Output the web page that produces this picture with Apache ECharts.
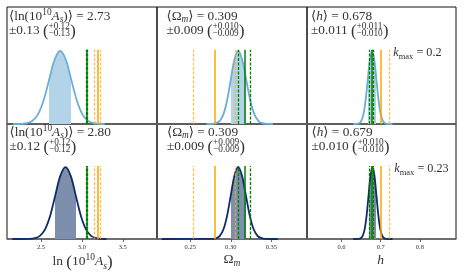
<!DOCTYPE html>
<html><head><meta charset="utf-8">
<script src="https://cdn.jsdelivr.net/npm/echarts@6/dist/echarts.min.js"></script>
<style>html,body{margin:0;padding:0;background:#fff}#c{width:464px;height:277px}</style>
</head><body><div id="c"></div>
<script>
// ---------------- DATA ----------------
const lnAsTicks = [2.5, 3.0, 3.5];
const omTicks = [0.25, 0.30, 0.35];
const hTicks = [0.6, 0.7, 0.8];

// top row (k_max = 0.2) posteriors, peak-normalised
const lnAsTopX = [2.16, 2.2625, 2.33, 2.3975, 2.465, 2.5325, 2.60, 2.6675, 2.735, 2.8025, 2.87, 2.9375, 3.005, 3.0725, 3.14, 3.2075, 3.28];
const lnAsTopY = [0, 0.002, 0.011, 0.044, 0.135, 0.325, 0.607, 0.882, 1, 0.882, 0.607, 0.325, 0.135, 0.044, 0.011, 0.002, 0];
const omTopX = [0.270, 0.2775, 0.282, 0.2865, 0.291, 0.2955, 0.300, 0.3045, 0.309, 0.314, 0.319, 0.324, 0.329, 0.334, 0.339, 0.344, 0.352];
const omTopY = [0, 0.002, 0.011, 0.044, 0.135, 0.325, 0.607, 0.882, 1, 0.882, 0.607, 0.325, 0.135, 0.044, 0.011, 0.002, 0];
const hTopX = [0.63, 0.6395, 0.645, 0.6505, 0.656, 0.6615, 0.667, 0.6725, 0.678, 0.6835, 0.689, 0.6945, 0.700, 0.7055, 0.711, 0.7165, 0.73];
const hTopY = [0, 0.002, 0.011, 0.044, 0.135, 0.325, 0.607, 0.882, 1, 0.882, 0.607, 0.325, 0.135, 0.044, 0.011, 0.002, 0];

// bottom row (k_max = 0.23)
const lnAsBotX = [2.15, 2.3625, 2.425, 2.4875, 2.55, 2.6125, 2.675, 2.7375, 2.80, 2.8625, 2.925, 2.9875, 3.05, 3.1125, 3.175, 3.2375, 3.30];
const lnAsBotY = [0, 0.002, 0.011, 0.044, 0.135, 0.325, 0.607, 0.882, 1, 0.882, 0.607, 0.325, 0.135, 0.044, 0.011, 0.002, 0];
const omBotX = [0.215, 0.2775, 0.282, 0.2865, 0.291, 0.2955, 0.300, 0.3045, 0.309, 0.3138, 0.3186, 0.3234, 0.3282, 0.333, 0.3378, 0.3426, 0.358];
const omBotY = [0, 0.002, 0.011, 0.044, 0.135, 0.325, 0.607, 0.882, 1, 0.882, 0.607, 0.325, 0.135, 0.044, 0.011, 0.002, 0];
const hBotX = [0.63, 0.644, 0.649, 0.654, 0.659, 0.664, 0.669, 0.674, 0.679, 0.684, 0.689, 0.694, 0.699, 0.704, 0.709, 0.714, 0.73];
const hBotY = [0, 0.002, 0.011, 0.044, 0.135, 0.325, 0.607, 0.882, 1, 0.882, 0.607, 0.325, 0.135, 0.044, 0.011, 0.002, 0];

// 68% shaded bands
const lnAsTopBand = [2.60, 2.87];
const omTopBand = [0.300, 0.319];
const hTopBand = [0.667, 0.689];
const lnAsBotBand = [2.675, 2.925];
const omBotBand = [0.300, 0.3186];
const hBotBand = [0.669, 0.689];

// reference vertical lines: [dashed, solid, dashed]
const greenLnAs = [3.048, 3.057, 3.066];
const orangeLnAs = [3.154, 3.192, 3.228];
const greenOm = [0.309, 0.317, 0.3245];
const orangeOm = [0.254, 0.280, 0.306];
const greenH = [0.670, 0.676, 0.681];
const orangeH = [0.679, 0.700, 0.721];

// annotation values
const meanTop = ['2.73', '0.309', '0.678'];
const pmTop = ['0.13', '0.009', '0.011'];
const upTop = ['+0.12', '+0.010', '+0.011'];
const dnTop = ['\u22120.13', '\u22120.009', '\u22120.010'];
const meanBot = ['2.80', '0.309', '0.679'];
const pmBot = ['0.12', '0.009', '0.010'];
const upBot = ['+0.12', '+0.009', '+0.010'];
const dnBot = ['\u22120.12', '\u22120.009', '\u22120.010'];
const kmaxLabels = ['0.2', '0.23'];

// ---------------- LAYOUT / STYLE ----------------
const F = '"Liberation Serif","DejaVu Serif",serif';
const TXT = '#333';
const colL = [7, 157, 307], colW = [150, 150, 149];
const rowT = [7, 124], rowH = [117, 115];
const xr = [[2.085, 3.918], [0.209, 0.394], [0.512, 0.892]];
const YMAX = 1.6, LTOP = 1.015;
const LB = '#6baed6', LBF = '#b3d3e8', NV = '#0b2d69', NVF = '#7d8fad';
const GREEN = '#008000', OR = '#ffa500', ORD = 'rgba(255,170,30,0.75)';

const ctx = document.createElement('canvas').getContext('2d');
function fstr(size, it) { return (it ? 'italic ' : '') + size + 'px ' + F; }
function meas(t, size, it) { ctx.font = fstr(size, it); return ctx.measureText(t).width; }
const G = [];
function put(t, x, base, size, it) {
  G.push({ type: 'text', x: x, y: base - 0.34 * size, silent: true, z: 100,
    style: { text: t, font: fstr(size, it), fill: TXT, align: 'left', verticalAlign: 'middle', textAlign: 'left', textVerticalAlign: 'middle' } });
  return meas(t, size, it);
}
function line(x, base, pieces, center) {
  let W = 0; pieces.forEach(p => W += meas(p[0], p[1], p[2]));
  let cx = center ? x - W / 2 : x;
  pieces.forEach(p => { cx += put(p[0], cx, base - (p[3] || 0), p[1], p[2]); });
  return W;
}
const S = 13.3, SS = 9.3, SP = 16.5;
function annot(c, r, mean, pm, up, dn) {
  const x0 = [9, 166.5, 311][c] + (r ? 0.5 : 0);
  const b1 = r ? 136.6 : 20.6, b2 = r ? 150.8 : 35;
  let p1;
  if (c === 0) p1 = [['\u27E8ln(10', S], ['10', SS, false, 5.2], ['A', S, true], ['s', SS, true, -2.5], [')\u27E9 = ' + mean, S]];
  else if (c === 1) p1 = [['\u27E8\u03A9', S], ['m', SS, true, -2.5], ['\u27E9 = ' + mean, S]];
  else p1 = [['\u27E8', S], ['h', S, true], ['\u27E9 = ' + mean, S]];
  line(x0, b1, p1);
  let x = x0 + put('\u00B1' + pm + ' ', x0, b2, S);
  x += put('(', x, b2 + 2, SP);
  const w = Math.max(meas(up, SS), meas(dn, SS));
  put(up, x, b2 - 5.2, SS); put(dn, x, b2 + 1.6, SS);
  put(')', x + w + 0.3, b2 + 2, SP);
}
for (let c = 0; c < 3; c++) { annot(c, 0, meanTop[c], pmTop[c], upTop[c], dnTop[c]); annot(c, 1, meanBot[c], pmBot[c], upBot[c], dnBot[c]); }
// k_max labels
[[393.3, 57.3], [394.3, 173.3]].forEach((pos, r) => {
  line(pos[0], pos[1], [['k', 12.2, true], ['max', 8.5, false, -2.5], [' = ' + kmaxLabels[r], 12.2]]);
});
// axis titles
line(82.5, 266.5, [['ln ', 13.5], ['(', 17, false, -1.5], ['10', 13.5], ['10', 9.5, false, 5.5], ['A', 13.5, true], ['s', 9.5, true, -3], [')', 17, false, -1.5]], true);
line(232, 264, [['\u03A9', 13.5], ['m', 9.5, true, -3]], true);
line(380.5, 265, [['h', 13.5, true]], true);

// ---------------- CHART ----------------
const panels = [
  { c: 0, r: 0, x: lnAsTopX, y: lnAsTopY, band: lnAsTopBand, col: LB, fill: LBF, green: greenLnAs, orange: orangeLnAs, ticks: lnAsTicks, dec: 1 },
  { c: 1, r: 0, x: omTopX, y: omTopY, band: omTopBand, col: LB, fill: LBF, green: greenOm, orange: orangeOm, ticks: omTicks, dec: 2 },
  { c: 2, r: 0, x: hTopX, y: hTopY, band: hTopBand, col: LB, fill: LBF, green: greenH, orange: orangeH, ticks: hTicks, dec: 1 },
  { c: 0, r: 1, x: lnAsBotX, y: lnAsBotY, band: lnAsBotBand, col: NV, fill: NVF, green: greenLnAs, orange: orangeLnAs, ticks: lnAsTicks, dec: 1 },
  { c: 1, r: 1, x: omBotX, y: omBotY, band: omBotBand, col: NV, fill: NVF, green: greenOm, orange: orangeOm, ticks: omTicks, dec: 2 },
  { c: 2, r: 1, x: hBotX, y: hBotY, band: hBotBand, col: NV, fill: NVF, green: greenH, orange: orangeH, ticks: hTicks, dec: 1 }
];

const grid = [], xAxis = [], yAxis = [], series = [];
panels.forEach((p, i) => {
  grid.push({ left: colL[p.c], top: rowT[p.r], width: colW[p.c], height: rowH[p.r], show: true, borderColor: '#111', borderWidth: 1, backgroundColor: 'transparent' });
  const bot = p.r === 1;
  xAxis.push({ type: 'value', gridIndex: i, min: xr[p.c][0], max: xr[p.c][1], splitLine: { show: false },
    axisLine: { show: true, onZero: false, lineStyle: { color: '#666', width: 1.5 } },
    axisTick: { show: bot, customValues: p.ticks, length: 3, lineStyle: { color: '#444', width: 0.8 } },
    axisLabel: { show: bot, customValues: p.ticks, formatter: v => v.toFixed(p.dec), fontSize: 6.5, fontFamily: F, color: '#333', margin: 5 } });
  yAxis.push({ type: 'value', gridIndex: i, min: 0, max: YMAX, show: false });
  const x0 = p.x[0], xN = p.x[p.x.length - 1];
  const s1 = (p.band[0] - x0) / (xN - x0), s2 = (p.band[1] - x0) / (xN - x0);
  const T = 'rgba(255,255,255,0)';
  const grad = new echarts.graphic.LinearGradient(0, 0, 1, 0, [
    { offset: 0, color: T }, { offset: s1, color: T }, { offset: s1, color: p.fill },
    { offset: s2, color: p.fill }, { offset: s2, color: T }, { offset: 1, color: T }]);
  const mk = [];
  const vl = (v, color, width, type) => mk.push([{ coord: [v, 0], lineStyle: { color, width, type } }, { coord: [v, LTOP] }]);
  vl(p.orange[0], ORD, 1.3, [3, 1.5]); vl(p.orange[2], ORD, 1.3, [3, 1.5]); vl(p.orange[1], OR, 1.5, 'solid');
  vl(p.green[0], GREEN, 1.3, [3, 1.5]); vl(p.green[2], GREEN, 1.3, [3, 1.5]); vl(p.green[1], GREEN, 1.5, 'solid');
  series.push({ type: 'line', xAxisIndex: i, yAxisIndex: i, data: p.x.map((v, k) => [v, p.y[k]]), smooth: 0.35,
    symbol: 'none', silent: true, lineStyle: { color: p.col, width: 1.8 }, areaStyle: { color: grad, opacity: 1 },
    markLine: { silent: true, symbol: ['none', 'none'], label: { show: false }, animation: false, data: mk } });
});

const chart = echarts.init(document.getElementById('c'), null, { renderer: 'canvas' });
chart.setOption({ animation: false, grid, xAxis, yAxis, series, graphic: { elements: G } });
</script></body></html>
